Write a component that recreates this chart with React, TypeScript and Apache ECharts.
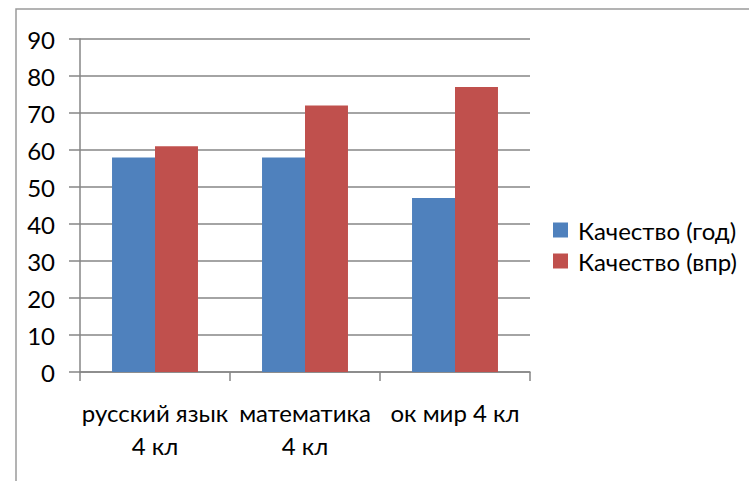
import React, { useEffect, useRef } from "react";
import * as echarts from "echarts";

const categories = ["русский язык\n4 кл", "математика\n4 кл", "ок мир 4 кл"];
const seriesNames = ["Качество (год)", "Качество (впр)"];
const qualityYear = [58, 58, 47];
const qualityVpr = [61, 72, 77];
const yTicks = { min: 0, max: 90, interval: 10 };

const FONT = "Lato, 'Open Sans', sans-serif";

export default function App() {
  const ref = useRef<HTMLDivElement>(null);
  useEffect(() => {
    if (!ref.current) return;
    const chart = echarts.init(ref.current, null, { renderer: "svg" });
    chart.setOption({
      animation: false,
      backgroundColor: "#ffffff",
      textStyle: { fontFamily: FONT },
      graphic: [
        {
          type: "rect",
          shape: { x: 16, y: 9, width: 900, height: 700 },
          style: { fill: "none", stroke: "#9a9a9a", lineWidth: 1.5 },
          silent: true,
          z: -1,
        },
      ],
      grid: { left: 80, right: 219, top: 39, bottom: 109, containLabel: false },
      legend: {
        orient: "vertical",
        left: 553,
        top: 218,
        padding: 0,
        itemWidth: 15,
        itemHeight: 15,
        itemGap: 7,
        icon: "rect",
        textStyle: { fontFamily: FONT, fontSize: 24, color: "#000", padding: [0, 0, 0, 5] },
        data: seriesNames,
      },
      xAxis: {
        type: "category",
        data: categories,
        axisLine: { lineStyle: { color: "#868686", width: 1.5 } },
        axisTick: { show: true, length: 9, alignWithLabel: false, interval: 0, lineStyle: { color: "#868686", width: 1.5 } },
        axisLabel: {
          interval: 0,
          margin: 24,
          color: "#000",
          fontFamily: FONT,
          fontSize: 24,
          lineHeight: 33,
        },
      },
      yAxis: {
        type: "value",
        min: yTicks.min,
        max: yTicks.max,
        interval: yTicks.interval,
        axisLine: { show: true, lineStyle: { color: "#868686", width: 1.5 } },
        axisTick: { show: true, length: 11, lineStyle: { color: "#868686", width: 1.5 } },
        splitLine: { lineStyle: { color: "#868686", width: 1.5 } },
        axisLabel: { margin: 25, color: "#000", fontFamily: FONT, fontSize: 24 },
      },
      series: [
        {
          name: seriesNames[0],
          type: "bar",
          data: qualityYear,
          itemStyle: { color: "#4F81BD" },
          barGap: "0%",
          barCategoryGap: "42.7%",
        },
        {
          name: seriesNames[1],
          type: "bar",
          data: qualityVpr,
          itemStyle: { color: "#C0504D" },
          barGap: "0%",
          barCategoryGap: "42.7%",
        },
      ],
    });
    return () => chart.dispose();
  }, []);
  return (
    <div
      ref={ref}
      style={{ position: "fixed", left: 0, top: 0, width: 749, height: 481 }}
    />
  );
}
